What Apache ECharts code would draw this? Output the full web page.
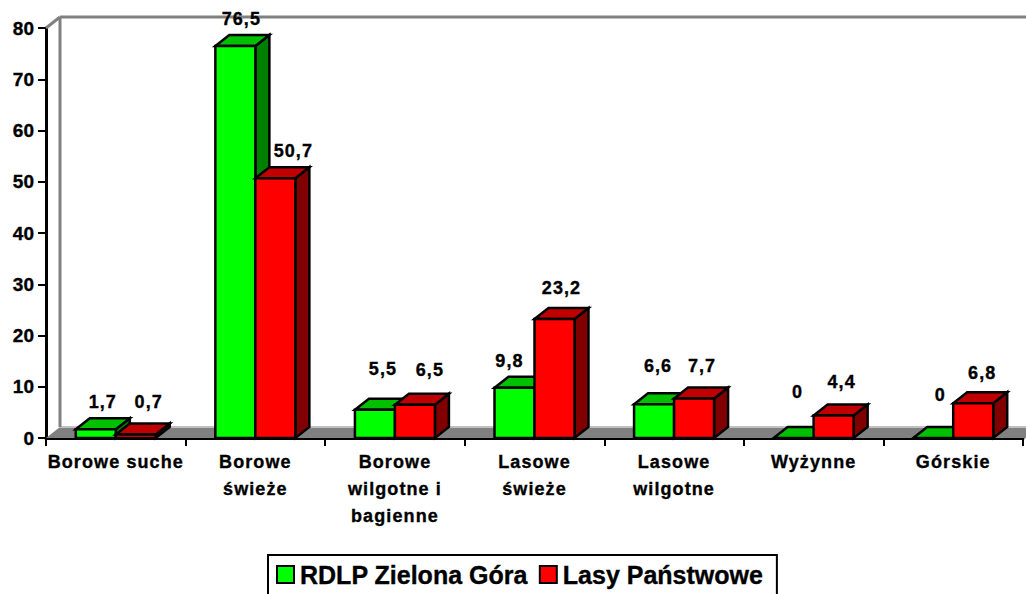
<!DOCTYPE html>
<html><head><meta charset="utf-8">
<style>
html,body{margin:0;padding:0;background:#fff;overflow:hidden}
#c{width:1026px;height:594px}
text[style*="18px"]{letter-spacing:1.1px}
text{stroke:#000;stroke-width:.35px}
</style>
<script src="https://cdn.jsdelivr.net/npm/echarts@6/dist/echarts.min.js"></script>
</head><body><div id="c"></div>
<script>
const categories=['Borowe suche','Borowe\nświeże','Borowe\nwilgotne i\nbagienne','Lasowe\nświeże','Lasowe\nwilgotne','Wyżynne','Górskie'];
const seriesNames=['RDLP Zielona Góra','Lasy Państwowe'];
const rdlp=[1.7,76.5,5.5,9.8,6.6,0,0];
const lasy=[0.7,50.7,6.5,23.2,7.7,4.4,6.8];
const yTicks={min:0,max:80,interval:10};
// hand placed label offsets, relative to the front top centre of each bar
const rdlpLabelNudge=[[7,-27],[6,-27],[8,-41],[-5,-27],[4,-38],[4,-46],[7,-43]];
const lasyLabelNudge=[[13,-32],[18,-27],[15,-35],[7,-31],[8,-33],[8,-33],[9,-30]];
const DX=14,DY=-11;
const font='bold 18px "Liberation Sans",Arial,sans-serif';
function poly(pts,fill){return{type:'polygon',shape:{points:pts},style:{fill,stroke:'#000',lineWidth:2.5,lineJoin:'miter'}};}
function barRender(side,front,top,darkSide,nudges){
  return function(params,api){
    const i=api.value(0),v=api.value(1);
    const p=api.coord([i,v]),b=api.coord([i,0]);
    const w=api.size([1,0])[0]*40/139.6;
    const x0=side<0?p[0]-w:p[0],x1=x0+w,y=p[1],y0=b[1];
    const kids=[];
    kids.push(poly([[x1,y],[x1+DX,y+DY],[x1+DX,y0+DY],[x1,y0]],darkSide));
    kids.push(poly([[x0,y],[x1,y],[x1+DX,y+DY],[x0+DX,y+DY]],top));
    if(v>0)kids.push(poly([[x0,y],[x1,y],[x1,y0],[x0,y0]],front));
    const n=nudges[i];
    kids.push({type:'text',style:{text:String(v).replace('.',','),x:(x0+x1)/2+n[0],y:y+n[1],align:'center',verticalAlign:'middle',font,fill:'#000'}});
    return{type:'group',children:kids};
  };
}
function frameRender(params,api){
  const c=params.coordSys;
  const L=c.x,R=c.x+c.width,T=c.y,B=c.y+c.height;
  const g='#808080';
  const line=(a,b)=>({type:'line',shape:{x1:a[0],y1:a[1],x2:b[0],y2:b[1]},style:{stroke:g,lineWidth:3}});
  return{type:'group',children:[
    {type:'polygon',shape:{points:[[L,B],[L+DX,B+DY],[R+DX+10,B+DY],[R+10,B]]},style:{fill:g}},
    {type:'line',shape:{x1:L+DX,y1:B+DY,x2:R+DX+10,y2:B+DY},style:{stroke:'#c0c0c0',lineWidth:2}},
    line([L,T],[L+DX,T+DY]),
    line([L+DX,T+DY],[R+DX+10,T+DY]),
    line([L+DX,T+DY],[L+DX,B+DY])
  ]};
}
const toRows=a=>a.map((v,i)=>[i,v]);
const chart=echarts.init(document.getElementById('c'),null,{renderer:'svg',width:1026,height:594});
chart.setOption({
  animation:false,
  backgroundColor:'#fff',
  color:['#00ff00','#ff0000'],
  grid:{left:46,right:3,top:28,bottom:156},
  legend:{
    data:seriesNames,left:268,top:555,orient:'horizontal',
    backgroundColor:'#fff',borderColor:'#000',borderWidth:2,padding:[7,14,12,8],itemGap:11,
    itemWidth:17,itemHeight:17,borderRadius:0,
    icon:'rect',itemStyle:{borderColor:'#000',borderWidth:2},
    textStyle:{fontFamily:'"Liberation Sans",Arial,sans-serif',fontWeight:'bold',fontSize:25,color:'#000',padding:[0,0,0,1]}
  },
  xAxis:{type:'category',data:categories,boundaryGap:true,
    axisLine:{lineStyle:{color:'#000',width:3}},
    axisTick:{show:true,length:8,alignWithLabel:false,lineStyle:{color:'#000',width:2}},
    axisLabel:{interval:0,margin:10,lineHeight:27,fontFamily:'"Liberation Sans",Arial,sans-serif',fontWeight:'bold',fontSize:18,color:'#000',verticalAlign:'top'}},
  yAxis:{type:'value',min:yTicks.min,max:yTicks.max,interval:yTicks.interval,
    splitLine:{show:false},
    axisLine:{show:true,lineStyle:{color:'#000',width:3}},
    axisTick:{show:true,length:8,lineStyle:{color:'#000',width:2}},
    axisLabel:{margin:12,fontFamily:'"Liberation Sans",Arial,sans-serif',fontWeight:'bold',fontSize:19,color:'#000'}},
  series:[
    {type:'custom',silent:true,renderItem:frameRender,data:[[0,0]],clip:false,z:1,legendHoverLink:false},
    {name:seriesNames[0],type:'custom',clip:false,z:2,renderItem:barRender(-1,'#00ff00','#00c000','#008000',rdlpLabelNudge),data:toRows(rdlp),encode:{x:0,y:1},itemStyle:{color:'#00ff00'}},
    {name:seriesNames[1],type:'custom',clip:false,z:3,renderItem:barRender(1,'#ff0000','#c00000','#800000',lasyLabelNudge),data:toRows(lasy),encode:{x:0,y:1},itemStyle:{color:'#ff0000'}}
  ]
});
</script></body></html>
